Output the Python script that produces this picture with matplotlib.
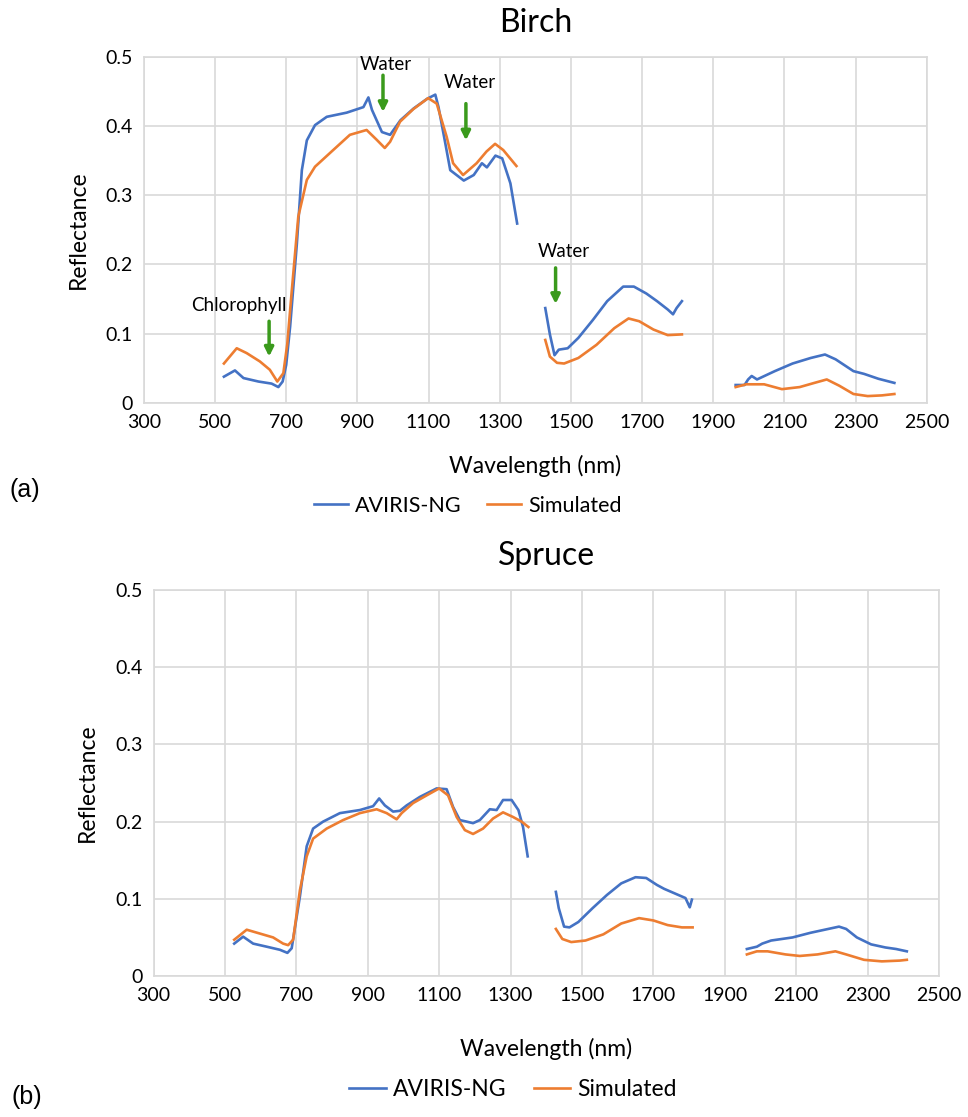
import matplotlib
matplotlib.use("Agg")
import matplotlib.pyplot as plt

plt.rcParams["font.family"] = ["Lato", "DejaVu Sans"]

NAN = float("nan")

# Birch (a)
BIRCH_AVIRIS_NM = [
    525, 556, 580, 622, 659, 678, 690, 700, 711, 730, 744, 758, 781, 814, 870, 917, 931,
    941, 969, 992, 1021, 1058, 1096, 1119, 1128, 1147, 1161, 1199, 1227, 1250, 1264,
    1288, 1307, 1330, 1349, NAN,
    1428, 1441, 1454, 1466, 1491, 1521, 1562, 1602, 1647, 1677, 1712, 1742, 1772,
    1787, 1797, 1812, NAN,
    1963, 1988, 1998, 2008, 2023, 2073, 2123, 2174, 2214, 2244, 2294, 2324, 2364, 2409,
]
BIRCH_AVIRIS_R = [
    0.038, 0.047, 0.036, 0.031, 0.028, 0.023, 0.031, 0.055, 0.110, 0.230, 0.336, 0.379, 0.401,
    0.413, 0.419, 0.427, 0.441, 0.423, 0.391, 0.387, 0.408, 0.425, 0.439, 0.445, 0.427,
    0.375, 0.336, 0.321, 0.329, 0.346, 0.340, 0.357, 0.353, 0.317, 0.259, NAN,
    0.137, 0.099, 0.069, 0.077, 0.079, 0.094, 0.120, 0.147, 0.168, 0.168, 0.158, 0.147,
    0.135, 0.128, 0.137, 0.147, NAN,
    0.026, 0.026, 0.034, 0.039, 0.034, 0.046, 0.057, 0.065, 0.070, 0.063, 0.046, 0.042,
    0.035, 0.029,
]
BIRCH_SIM_NM = [
    525, 561, 589, 626, 654, 675, 692, 703, 715, 734, 758, 781, 832, 879, 926, 954, 977,
    992, 1020, 1057, 1099, 1123, 1151, 1169, 1197, 1235, 1263, 1287, 1310, 1347, NAN,
    1428, 1441, 1461, 1481, 1521, 1572, 1622, 1662, 1692, 1732, 1772, 1812, NAN,
    1963, 1993, 2043, 2093, 2143, 2184, 2219, 2254, 2294, 2334, 2374, 2409,
]
BIRCH_SIM_R = [
    0.057, 0.079, 0.072, 0.060, 0.048, 0.031, 0.043, 0.085, 0.158, 0.269, 0.322, 0.341, 0.365,
    0.387, 0.394, 0.380, 0.368, 0.377, 0.406, 0.424, 0.440, 0.432, 0.384, 0.346, 0.329,
    0.346, 0.363, 0.374, 0.365, 0.342, NAN,
    0.091, 0.067, 0.058, 0.057, 0.065, 0.084, 0.108, 0.122, 0.118, 0.106, 0.098, 0.099, NAN,
    0.023, 0.027, 0.027, 0.020, 0.023, 0.029, 0.034, 0.025, 0.013, 0.010, 0.011, 0.013,
]

# Spruce (b)
SPRUCE_AVIRIS_NM = [
    526, 551, 579, 617, 654, 675, 687, 710, 729, 747, 775, 822, 878, 915, 932, 948,
    971, 990, 1009, 1046, 1093, 1121, 1139, 1158, 1177, 1195, 1214, 1242, 1261, 1279,
    1303, 1322, 1335, 1348, NAN,
    1427, 1435, 1450, 1465, 1490, 1530, 1570, 1610, 1650, 1680, 1710, 1730, 1760,
    1790, 1802, 1808, NAN,
    1962, 1990, 2005, 2030, 2090, 2140, 2190, 2220, 2240, 2270, 2310, 2350, 2380, 2410,
]
SPRUCE_AVIRIS_R = [
    0.042, 0.051, 0.042, 0.038, 0.034, 0.030, 0.036, 0.103, 0.168, 0.191, 0.200, 0.211,
    0.215, 0.220, 0.230, 0.221, 0.213, 0.214, 0.221, 0.232, 0.243, 0.242, 0.219, 0.202,
    0.200, 0.198, 0.202, 0.216, 0.215, 0.228, 0.228, 0.215, 0.193, 0.155, NAN,
    0.109, 0.088, 0.064, 0.063, 0.070, 0.088, 0.105, 0.120, 0.128, 0.127, 0.118, 0.113,
    0.107, 0.101, 0.089, 0.099, NAN,
    0.035, 0.038, 0.042, 0.046, 0.050, 0.056, 0.061, 0.064, 0.061, 0.050, 0.041, 0.037,
    0.035, 0.032,
]
SPRUCE_SIM_NM = [
    526, 561, 598, 635, 663, 677, 691, 710, 729, 747, 785, 831, 878, 925, 953, 981,
    995, 1027, 1065, 1100, 1125, 1149, 1172, 1195, 1223, 1251, 1279, 1307, 1331, 1350, NAN,
    1427, 1445, 1470, 1510, 1560, 1610, 1660, 1700, 1740, 1780, 1810, NAN,
    1962, 1990, 2020, 2070, 2110, 2160, 2210, 2240, 2290, 2340, 2390, 2410,
]
SPRUCE_SIM_R = [
    0.047, 0.060, 0.055, 0.050, 0.042, 0.040, 0.047, 0.111, 0.155, 0.178, 0.191, 0.202,
    0.211, 0.216, 0.211, 0.203, 0.211, 0.224, 0.234, 0.243, 0.234, 0.206, 0.189, 0.184,
    0.191, 0.204, 0.212, 0.206, 0.200, 0.193, NAN,
    0.061, 0.048, 0.044, 0.046, 0.054, 0.068, 0.075, 0.072, 0.066, 0.063, 0.063, NAN,
    0.028, 0.032, 0.032, 0.028, 0.026, 0.028, 0.032, 0.028, 0.021, 0.019, 0.020, 0.021,
]

# Birch absorption annotations: label, text x/y, arrow x, arrow top, arrow tip
ANNOT_LABELS = ["Chlorophyll", "Water", "Water", "Water"]
ANNOT_TEXT_XY = [(567, 0.141), (980, 0.488), (1216, 0.462), (1479, 0.218)]
ANNOT_ARROW_X = [652, 972, 1205, 1457]
ANNOT_ARROW_TOP = [0.118, 0.473, 0.432, 0.195]
ANNOT_ARROW_TIP = [0.067, 0.420, 0.379, 0.143]

X_TICKS = list(range(300, 2501, 200))
Y_TICKS = [0, 0.1, 0.2, 0.3, 0.4, 0.5]
Y_TICK_LABELS = ["0", "0.1", "0.2", "0.3", "0.4", "0.5"]

BLUE = "#4472C4"
ORANGE = "#ED7D31"
GRID = "#d9d9d9"
ARROW = "#3a9a1c"


def style_axes(ax, title, title_pad, xlabel_pad):
    ax.set_xlim(300, 2500)
    ax.set_ylim(0, 0.5)
    ax.set_xticks(X_TICKS)
    ax.set_yticks(Y_TICKS)
    ax.set_yticklabels(Y_TICK_LABELS)
    ax.tick_params(length=0, labelsize=14, pad=8)
    ax.grid(True, color=GRID, linewidth=1.2)
    ax.set_axisbelow(True)
    for s in ax.spines.values():
        s.set_color(GRID)
        s.set_linewidth(1.2)
    ax.set_title(title, fontsize=23, pad=title_pad)
    ax.set_xlabel("Wavelength (nm)", fontsize=16.5, labelpad=xlabel_pad)
    ax.set_ylabel("Reflectance", fontsize=16.5, labelpad=12)


fig = plt.figure(figsize=(9.68, 11.17), dpi=100)
ax1 = fig.add_axes([0.1486, 0.6392, 0.8088, 0.3102])
ax2 = fig.add_axes([0.1586, 0.1262, 0.8114, 0.3456])

ax1.plot(BIRCH_AVIRIS_NM, BIRCH_AVIRIS_R, color=BLUE, lw=1.9, label="AVIRIS-NG")
ax1.plot(BIRCH_SIM_NM, BIRCH_SIM_R, color=ORANGE, lw=1.9, label="Simulated")
style_axes(ax1, "Birch", 18, 17)

for label, (tx, ty), axx, atop, atip in zip(
    ANNOT_LABELS, ANNOT_TEXT_XY, ANNOT_ARROW_X, ANNOT_ARROW_TOP, ANNOT_ARROW_TIP
):
    ax1.text(tx, ty, label, ha="center", va="center", fontsize=13.5)
    ax1.annotate(
        "",
        xy=(axx, atip),
        xytext=(axx, atop),
        arrowprops=dict(arrowstyle="-|>", color=ARROW, lw=2.5, mutation_scale=13,
                        shrinkA=0, shrinkB=0),
    )

ax2.plot(SPRUCE_AVIRIS_NM, SPRUCE_AVIRIS_R, color=BLUE, lw=1.9, label="AVIRIS-NG")
ax2.plot(SPRUCE_SIM_NM, SPRUCE_SIM_R, color=ORANGE, lw=1.9, label="Simulated")
style_axes(ax2, "Spruce", 18, 24)

ax1.legend(loc="center", bbox_to_anchor=(0.483, 0.547), bbox_transform=fig.transFigure,
           ncol=2, frameon=False, fontsize=15.5, handlelength=1.6, handletextpad=0.3,
           columnspacing=1.2)
ax2.legend(loc="center", bbox_to_anchor=(0.53, 0.0242), bbox_transform=fig.transFigure,
           ncol=2, frameon=False, fontsize=16.5, handlelength=1.6, handletextpad=0.3,
           columnspacing=1.2)

fig.text(0.01, 1 - 490 / 1117, "(a)", fontsize=18, family="Liberation Sans",
         ha="left", va="center")
fig.text(0.012, 1 - 1097 / 1117, "(b)", fontsize=18, family="Liberation Sans",
         ha="left", va="center")

fig.savefig("out.png", dpi=100)
